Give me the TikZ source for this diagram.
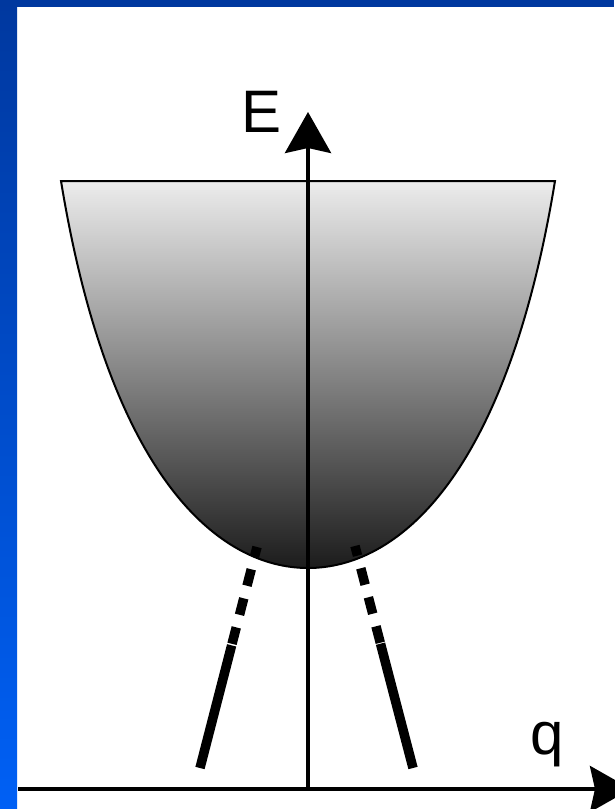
\documentclass[tikz,border=0pt]{standalone}
\usepackage{fontspec}
\setmainfont{Liberation Sans}
\usetikzlibrary{arrows.meta,calc}

\definecolor{frametop}{HTML}{00389F}
\definecolor{framebot}{HTML}{0060F5}
\definecolor{welltop}{HTML}{ECECEC}
\definecolor{wellbot}{HTML}{1C1C1C}

\begin{document}
\begin{tikzpicture}[x=1pt,y=-1pt,
  axis/.style={line width=4pt,-{Stealth[length=41pt,width=46pt,inset=5pt]}},
  band/.style={line width=9.5pt},
  gappy/.style={band,dash pattern=on 17pt off 13pt,dash phase=7pt},
  every node/.style={font=\fontsize{60}{72}\selectfont,inner sep=0pt}]
\useasboundingbox (0,0) rectangle (614,809);
\fill[white] (0,0) rectangle (614,809);
\shade[top color=frametop,bottom color=framebot] (0,0) rectangle (17,809);
\fill[frametop] (0,0) rectangle (614,6.5);
\draw[line width=2pt,top color=welltop,bottom color=wellbot]
  (61,181) .. controls (110,480) and (220,568) .. (308,568)
  .. controls (396,568) and (506,480) .. (555,181) -- cycle;
\coordinate (o) at (308,789);
\coordinate (eTip) at (308,112);
\coordinate (qStart) at (18,789);
\coordinate (qTip) at (631,789);
\draw[axis] (o) -- (eTip);
\draw[axis] (qStart) -- (qTip);
\coordinate (lTop) at (257,547);
\coordinate (lBot) at (200,768);
\coordinate (rTop) at (355,546);
\coordinate (rBot) at (413,768);
\coordinate (lMid) at ($(lTop)!0.445!(lBot)$);
\coordinate (rMid) at ($(rTop)!0.44!(rBot)$);
\draw[gappy] (lTop) -- (lMid);
\draw[band] (lMid) -- (lBot);
\draw[gappy] (rTop) -- (rMid);
\draw[band] (rMid) -- (rBot);
\node[anchor=base] (eLabel) at (261.5,132) {E};
\node[anchor=base] (qLabel) at (547.5,754) {q};
\end{tikzpicture}
\end{document}
